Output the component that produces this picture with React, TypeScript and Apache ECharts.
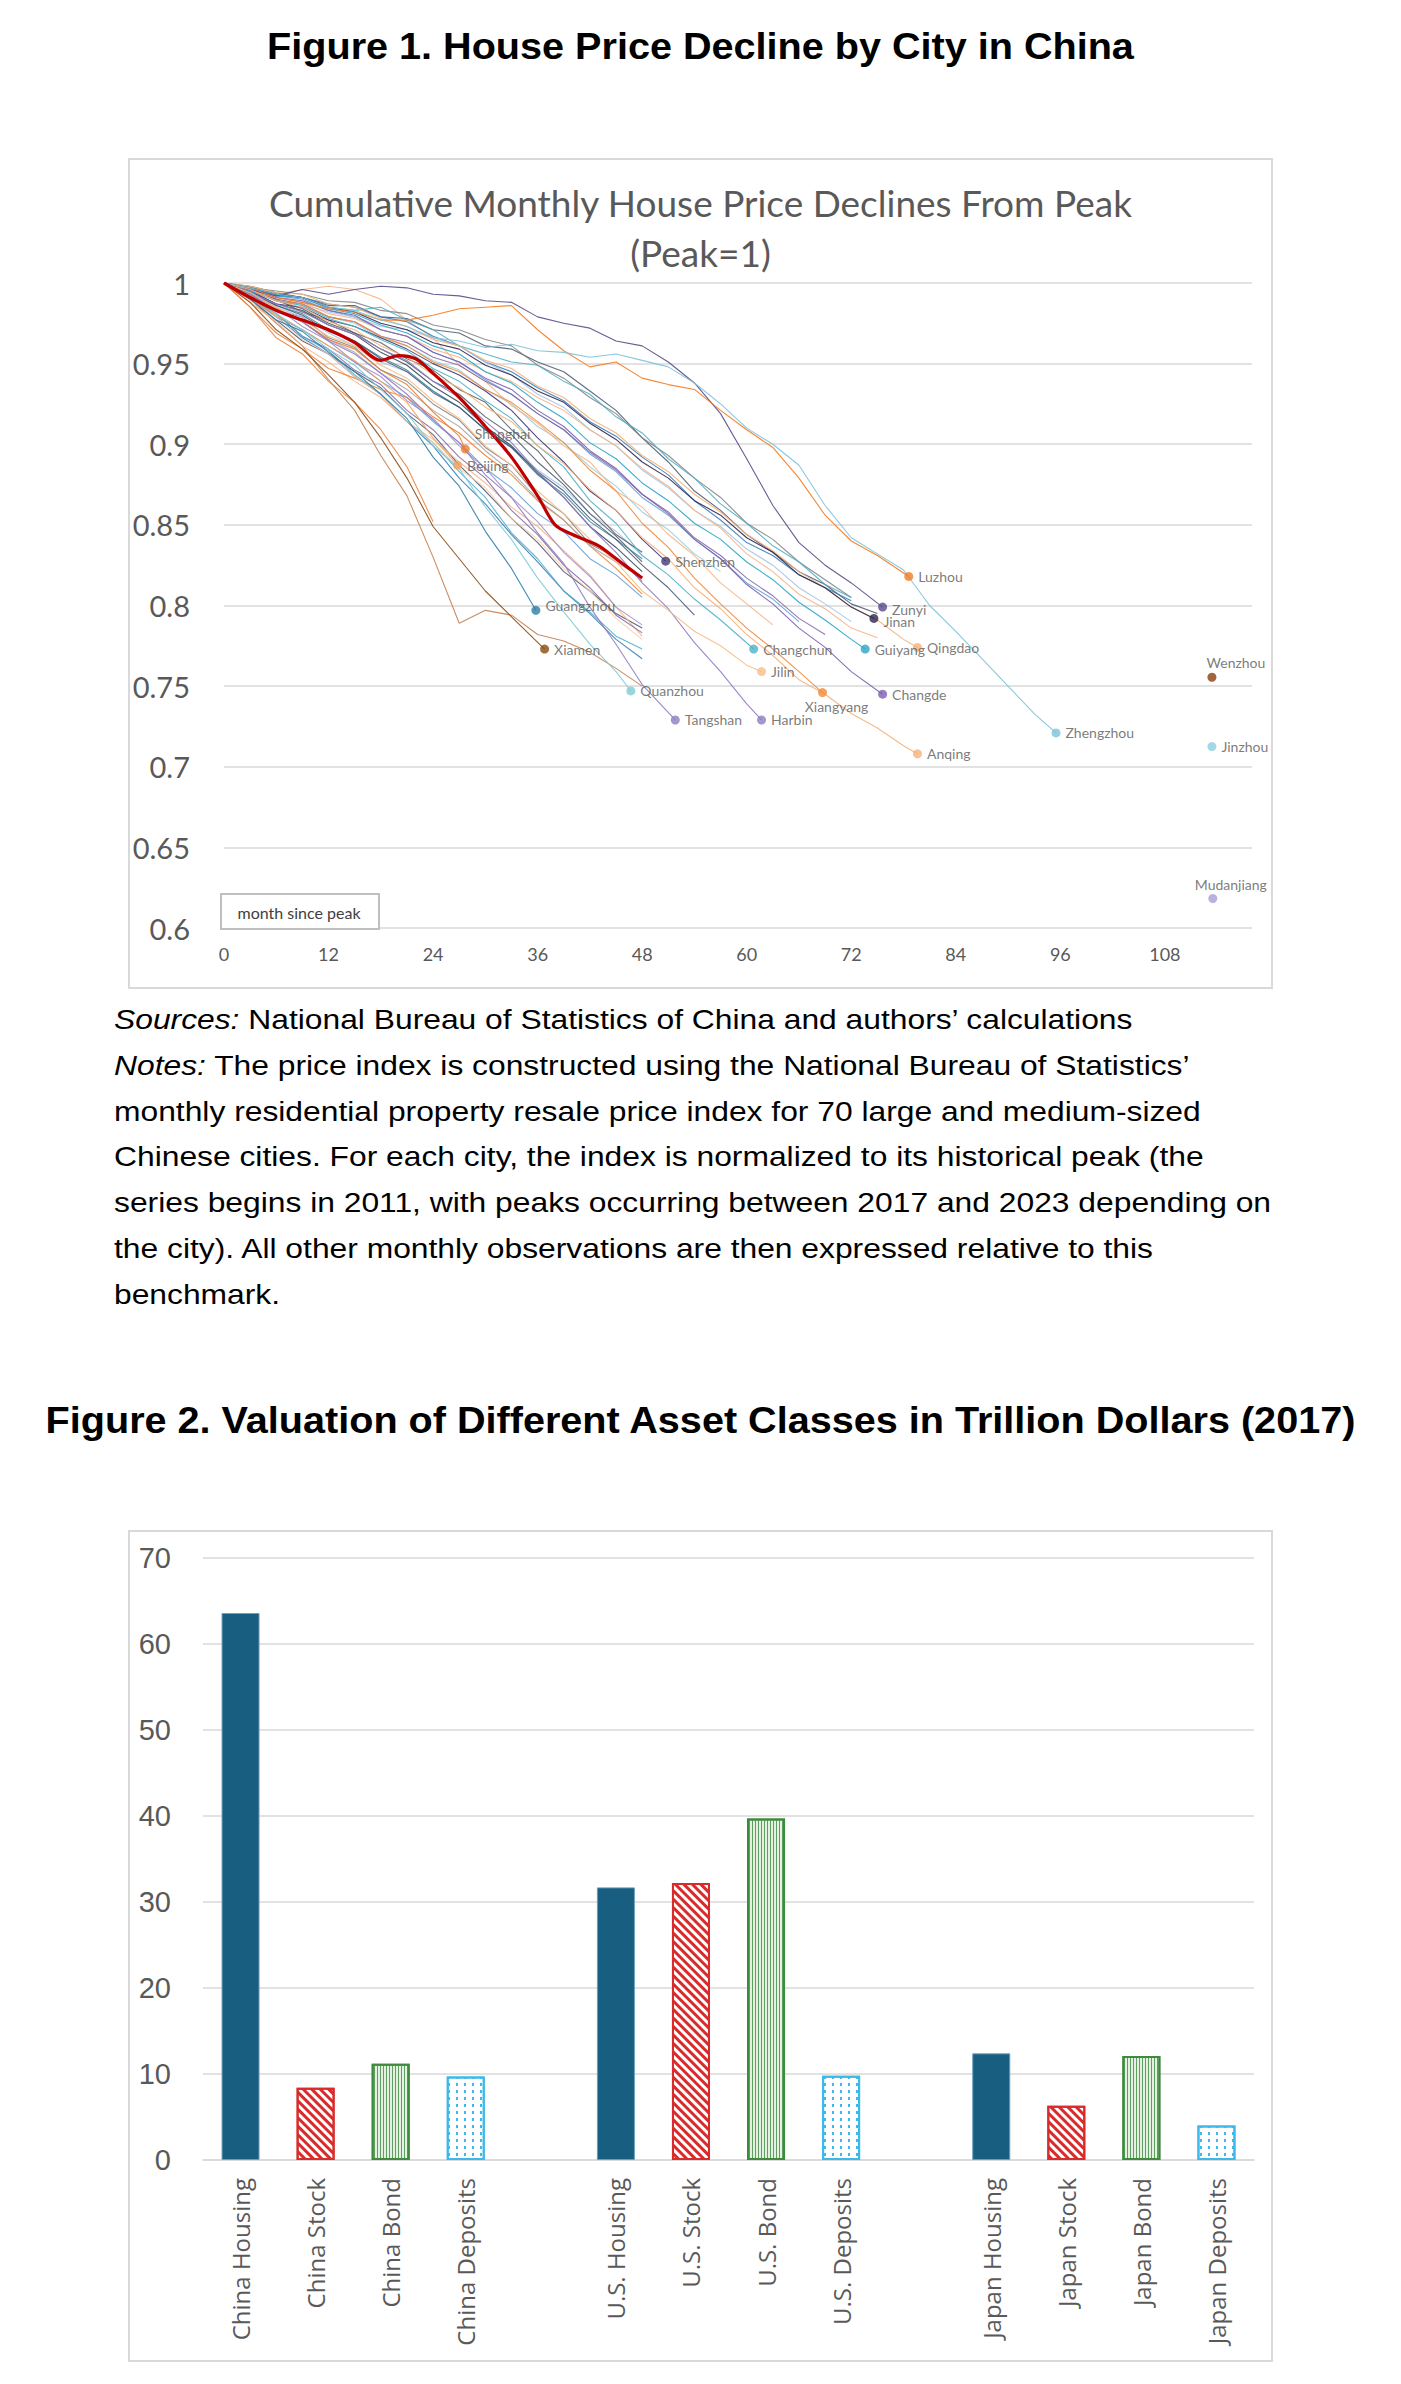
import { useEffect, useRef } from 'react'
import * as echarts from 'echarts'

// ---------------- Figure 1: cumulative monthly decline from peak ----------------
// every path is read off the picture at 0, 3, 6, ... months since peak
const STEP = 3

// average of all cities (thick red line)
const avgMonths = [0, 3, 6, 9, 12, 15, 18, 20, 22, 24, 27, 30, 33, 36, 38, 40, 43, 45, 48]
const avgValues = [1, 0.991, 0.983, 0.977, 0.971, 0.963, 0.952, 0.955, 0.953, 0.944, 0.929, 0.911, 0.892, 0.868, 0.85, 0.844, 0.837, 0.829, 0.817]

// labelled cities: path + last observation (marker)
const pShanghai = [1, 0.992, 0.984, 0.976, 0.965, 0.959, 0.946, 0.937, 0.92, 0.905]
const pBeijing = [1, 0.99, 0.98, 0.971, 0.961, 0.952, 0.939, 0.926, 0.904]
const pShenzhen = [1, 0.995, 0.987, 0.985, 0.977, 0.973, 0.966, 0.959, 0.95, 0.943, 0.933, 0.921, 0.904, 0.889, 0.871, 0.859, 0.841]
const pGuangzhou = [1, 0.99, 0.977, 0.97, 0.957, 0.945, 0.931, 0.916, 0.892, 0.874, 0.846, 0.823]
const pXiamen = [1, 0.988, 0.971, 0.959, 0.943, 0.926, 0.904, 0.879, 0.849, 0.829, 0.809, 0.793]
const pQuanzhou = [1, 0.992, 0.981, 0.971, 0.959, 0.949, 0.934, 0.919, 0.899, 0.885, 0.861, 0.841, 0.817, 0.796, 0.776, 0.759]
const pTangshan = [1, 0.993, 0.983, 0.976, 0.964, 0.956, 0.944, 0.931, 0.915, 0.901, 0.881, 0.867, 0.845, 0.826, 0.799, 0.776, 0.751]
const pHarbin = [1, 0.994, 0.987, 0.982, 0.974, 0.968, 0.959, 0.952, 0.939, 0.929, 0.914, 0.901, 0.883, 0.867, 0.849, 0.833, 0.814, 0.798, 0.777, 0.759, 0.739]
const pChangchun = [1, 0.995, 0.989, 0.986, 0.978, 0.973, 0.965, 0.958, 0.947, 0.939, 0.927, 0.916, 0.899, 0.886, 0.865, 0.851, 0.831, 0.819, 0.804, 0.791]
const pJilin = [1, 0.994, 0.985, 0.977, 0.967, 0.961, 0.949, 0.941, 0.927, 0.916, 0.899, 0.887, 0.871, 0.857, 0.841, 0.827, 0.809, 0.797, 0.784, 0.775, 0.763]
const pXiangyang = [1, 0.996, 0.989, 0.987, 0.979, 0.976, 0.967, 0.961, 0.951, 0.945, 0.934, 0.926, 0.914, 0.901, 0.884, 0.871, 0.851, 0.836, 0.817, 0.801, 0.786, 0.773, 0.759]
const pChangde = [1, 0.996, 0.991, 0.989, 0.983, 0.98, 0.971, 0.967, 0.957, 0.951, 0.941, 0.934, 0.921, 0.911, 0.896, 0.885, 0.869, 0.857, 0.841, 0.829, 0.813, 0.801, 0.786, 0.774, 0.759]
const pGuiyang = [1, 0.997, 0.992, 0.991, 0.984, 0.981, 0.974, 0.969, 0.961, 0.956, 0.945, 0.938, 0.926, 0.916, 0.901, 0.891, 0.876, 0.865, 0.851, 0.841, 0.827, 0.816, 0.802, 0.791, 0.779]
const pQingdao = [1, 0.998, 0.994, 0.993, 0.987, 0.985, 0.978, 0.973, 0.965, 0.961, 0.952, 0.947, 0.936, 0.929, 0.916, 0.907, 0.893, 0.883, 0.869, 0.858, 0.844, 0.834, 0.821, 0.811, 0.799, 0.791, 0.779]
const pJinan = [1, 0.997, 0.993, 0.991, 0.985, 0.982, 0.975, 0.971, 0.963, 0.959, 0.949, 0.943, 0.933, 0.926, 0.913, 0.903, 0.889, 0.879, 0.865, 0.856, 0.842, 0.833, 0.819, 0.811, 0.799]
const pZunyi = [1, 0.996, 0.992, 0.996, 0.993, 0.996, 0.998, 0.997, 0.993, 0.992, 0.989, 0.988, 0.979, 0.975, 0.972, 0.964, 0.961, 0.951, 0.938, 0.919, 0.891, 0.862, 0.839, 0.825, 0.814]
const pLuzhou = [1, 0.997, 0.991, 0.988, 0.984, 0.982, 0.977, 0.977, 0.98, 0.984, 0.985, 0.986, 0.971, 0.958, 0.948, 0.951, 0.941, 0.937, 0.934, 0.921, 0.909, 0.898, 0.879, 0.856, 0.84, 0.831]
const pAnqing = [1, 0.996, 0.989, 0.985, 0.976, 0.971, 0.961, 0.954, 0.943, 0.935, 0.923, 0.914, 0.899, 0.888, 0.872, 0.859, 0.842, 0.829, 0.811, 0.798, 0.782, 0.769, 0.754, 0.745, 0.733, 0.724, 0.713]
const pZhengzhou = [1, 0.997, 0.993, 0.991, 0.985, 0.983, 0.977, 0.973, 0.966, 0.964, 0.96, 0.962, 0.958, 0.957, 0.954, 0.956, 0.952, 0.948, 0.938, 0.925, 0.91, 0.9, 0.887, 0.862, 0.842, 0.832, 0.822, 0.8, 0.784, 0.767, 0.75, 0.733]

const cityNames = ['Shanghai', 'Beijing', 'Shenzhen', 'Guangzhou', 'Xiamen', 'Quanzhou', 'Tangshan', 'Harbin', 'Changchun', 'Jilin', 'Xiangyang', 'Changde', 'Guiyang', 'Qingdao', 'Jinan', 'Zunyi', 'Luzhou', 'Anqing', 'Zhengzhou']
const cityPaths = [pShanghai, pBeijing, pShenzhen, pGuangzhou, pXiamen, pQuanzhou, pTangshan, pHarbin, pChangchun, pJilin, pXiangyang, pChangde, pGuiyang, pQingdao, pJinan, pZunyi, pLuzhou, pAnqing, pZhengzhou]
const cityEndMonth = [27.7, 26.8, 50.7, 35.8, 36.8, 46.7, 51.8, 61.7, 60.8, 61.7, 68.7, 75.6, 73.6, 79.6, 74.6, 75.6, 78.6, 79.6, 95.5]
const cityEndValue = [0.897, 0.887, 0.8275, 0.797, 0.773, 0.747, 0.729, 0.729, 0.773, 0.759, 0.746, 0.745, 0.773, 0.774, 0.792, 0.799, 0.818, 0.708, 0.721]
const cityColors = ['#ED7D31', '#F4A35E', '#3E3A78', '#2E7DA6', '#8B4A12', '#7FCBD6', '#8E7CC3', '#8E7CC3', '#4BB4C8', '#F7BE8A', '#F28A3A', '#7B5FB0', '#2AA6C8', '#F5B27A', '#2D2550', '#5A4A8A', '#F47A1F', '#F5B27A', '#7DC2DA']

// cities shown only as a last observation
const soloNames = ['Wenzhou', 'Jinzhou', 'Mudanjiang']
const soloMonth = [113.4, 113.4, 113.5]
const soloValue = [0.7555, 0.7125, 0.6183]
const soloColors = ['#8B3E0E', '#8CCFE0', '#A99FD6']

// the unlabelled cities of the bundle
const u1 = [1, 0.985, 0.966, 0.956, 0.939, 0.926, 0.909, 0.886, 0.852]
const u2 = [1, 0.99, 0.975, 0.961, 0.94, 0.921, 0.893, 0.868, 0.83, 0.789, 0.797, 0.794, 0.782, 0.778, 0.771, 0.761, 0.75]
const u3 = [1, 0.99, 0.977, 0.964, 0.956, 0.945, 0.935, 0.919, 0.906, 0.887, 0.871, 0.854, 0.839, 0.821, 0.809, 0.795, 0.786]
const u4 = [1, 0.992, 0.979, 0.971, 0.961, 0.951, 0.939, 0.929, 0.914, 0.901, 0.885, 0.873, 0.857, 0.846, 0.829, 0.819, 0.805]
const u5 = [1, 0.988, 0.976, 0.961, 0.951, 0.939, 0.929, 0.914, 0.903, 0.889, 0.876, 0.861, 0.849, 0.834, 0.819, 0.799, 0.781]
const u6 = [1, 0.993, 0.983, 0.979, 0.966, 0.96, 0.946, 0.939, 0.925, 0.915, 0.898, 0.887, 0.868, 0.857, 0.838, 0.83, 0.815]
const u7 = [1, 0.99, 0.979, 0.966, 0.956, 0.942, 0.931, 0.914, 0.899, 0.879, 0.863, 0.844, 0.827, 0.809, 0.795, 0.779, 0.767]
const u8 = [1, 0.994, 0.985, 0.979, 0.969, 0.961, 0.951, 0.945, 0.933, 0.923, 0.909, 0.899, 0.884, 0.873, 0.857, 0.846, 0.831]
const u9 = [1, 0.991, 0.981, 0.967, 0.959, 0.946, 0.937, 0.921, 0.909, 0.892, 0.879, 0.859, 0.844, 0.825, 0.811, 0.794, 0.783]
const u10 = [1, 0.985, 0.969, 0.959, 0.947, 0.941, 0.934, 0.929, 0.917, 0.907, 0.893, 0.881, 0.865, 0.853, 0.837, 0.823, 0.807]
const u11 = [1, 0.995, 0.987, 0.983, 0.974, 0.968, 0.957, 0.949, 0.936, 0.926, 0.911, 0.899, 0.882, 0.867, 0.849, 0.836, 0.821]
const u12 = [1, 0.99, 0.981, 0.967, 0.958, 0.943, 0.931, 0.914, 0.901, 0.883, 0.867, 0.845, 0.829, 0.809, 0.796, 0.781, 0.773]
const u13 = [1, 0.992, 0.983, 0.976, 0.965, 0.957, 0.944, 0.934, 0.921, 0.911, 0.896, 0.883, 0.866, 0.853, 0.837, 0.827, 0.817]
const u14 = [1, 0.989, 0.979, 0.965, 0.956, 0.942, 0.931, 0.914, 0.901, 0.885, 0.873, 0.854, 0.841, 0.823, 0.809, 0.792, 0.779]
const u15 = [1, 0.996, 0.989, 0.984, 0.975, 0.969, 0.959, 0.951, 0.939, 0.931, 0.917, 0.906, 0.889, 0.875, 0.857, 0.843, 0.827]
const u16 = [1, 0.993, 0.985, 0.973, 0.964, 0.951, 0.942, 0.927, 0.916, 0.899, 0.885, 0.867, 0.852, 0.833, 0.818, 0.799, 0.788]
const u17 = [1, 0.994, 0.986, 0.981, 0.971, 0.964, 0.954, 0.946, 0.933, 0.923, 0.909, 0.898, 0.881, 0.869, 0.852, 0.841, 0.829]
const u18 = [1, 0.995, 0.99, 0.982, 0.977, 0.969, 0.963, 0.953, 0.946, 0.934, 0.926, 0.909, 0.896, 0.877, 0.861, 0.844, 0.833]
const u19 = [1, 0.996, 0.989, 0.986, 0.979, 0.975, 0.966, 0.961, 0.952, 0.946, 0.934, 0.925, 0.911, 0.901, 0.886, 0.874, 0.858, 0.847, 0.832, 0.821]
const u20 = [1, 0.995, 0.993, 0.996, 0.998, 0.996, 0.99, 0.977, 0.966, 0.949, 0.939, 0.924, 0.913, 0.899, 0.889, 0.871, 0.861, 0.844, 0.831, 0.814, 0.801, 0.788]
const u21 = [1, 0.994, 0.986, 0.98, 0.97, 0.964, 0.953, 0.945, 0.932, 0.923, 0.909, 0.898, 0.883, 0.871, 0.854, 0.841, 0.825, 0.811, 0.794]
const u22 = [1, 0.997, 0.992, 0.99, 0.983, 0.979, 0.971, 0.967, 0.957, 0.951, 0.94, 0.931, 0.919, 0.909, 0.894, 0.883, 0.867, 0.856, 0.841, 0.829, 0.814, 0.804, 0.79]
const u23 = [1, 0.998, 0.994, 0.991, 0.986, 0.986, 0.979, 0.978, 0.971, 0.969, 0.961, 0.959, 0.951, 0.945, 0.933, 0.921, 0.904, 0.889, 0.871, 0.859, 0.844, 0.833, 0.821, 0.813, 0.801, 0.795]
const u24 = [1, 0.996, 0.993, 0.991, 0.987, 0.985, 0.979, 0.976, 0.967, 0.961, 0.951, 0.945, 0.935, 0.927, 0.914, 0.905, 0.892, 0.881, 0.865, 0.853, 0.839, 0.831, 0.819, 0.811, 0.803]
const u25 = [1, 0.997, 0.995, 0.993, 0.989, 0.988, 0.983, 0.981, 0.974, 0.971, 0.965, 0.961, 0.949, 0.941, 0.929, 0.919, 0.904, 0.893, 0.879, 0.867, 0.851, 0.841, 0.827, 0.816, 0.805]
const u26 = [1, 0.995, 0.989, 0.987, 0.982, 0.979, 0.973, 0.971, 0.966, 0.961, 0.951, 0.943, 0.931, 0.923, 0.909, 0.899, 0.884, 0.873, 0.859, 0.849, 0.835, 0.825, 0.811, 0.801, 0.79]
const u27 = [1, 0.995, 0.99, 0.987, 0.979, 0.976, 0.967, 0.963, 0.954, 0.949, 0.939, 0.931, 0.919, 0.909, 0.895, 0.884, 0.869, 0.858, 0.842, 0.831, 0.817, 0.806, 0.792, 0.782]
const u28 = [1, 0.997, 0.993, 0.991, 0.985, 0.983, 0.985, 0.977, 0.971, 0.961, 0.956, 0.951, 0.949, 0.939, 0.931, 0.917, 0.907, 0.891, 0.879, 0.863, 0.851, 0.837, 0.827, 0.813, 0.805]
const u29 = [1, 0.996, 0.991, 0.988, 0.981, 0.978, 0.971, 0.967, 0.959, 0.954, 0.945, 0.939, 0.929, 0.921, 0.909, 0.899, 0.885, 0.874, 0.859, 0.848, 0.832, 0.821, 0.807, 0.798, 0.786, 0.78]

const otherPaths = [u1, u2, u3, u4, u5, u6, u7, u8, u9, u10, u11, u12, u13, u14, u15, u16, u17, u18, u19, u20, u21, u22, u23, u24, u25, u26, u27, u28, u29]
const otherColors = ['#ED7D31', '#C07A45', '#44546A', '#5B9BD5', '#F4B183', '#7F7F7F', '#2E75B6', '#9DC3E6', '#8064A2', '#ED7D31', '#333F50', '#4BACC6', '#A5A5A5', '#F8CBAD', '#44546A', '#9E8BC8', '#31859C', '#595959', '#92CDDC', '#F4B183', '#44546A', '#5B9BD5', '#44546A', '#2E75B6', '#7F7F7F', '#9DC3E6', '#8064A2', '#4BACC6', '#F4B183']

// ---------------- Figure 2: asset classes, trillion dollars (2017) ----------------
const assetCategories = ['China Housing', 'China Stock', 'China Bond', 'China Deposits', '', 'U.S. Housing', 'U.S. Stock', 'U.S. Bond', 'U.S. Deposits', '', 'Japan Housing', 'Japan Stock', 'Japan Bond', 'Japan Deposits']
const assetValues = [63.6, 8.4, 11.2, 9.7, null, 31.7, 32.2, 39.7, 9.8, null, 12.4, 6.3, 12.1, 4.0]
const assetKinds = ['housing', 'stock', 'bond', 'deposits', '', 'housing', 'stock', 'bond', 'deposits', '', 'housing', 'stock', 'bond', 'deposits']

const toPoints = (vals: number[]) => vals.map((v, i) => [i * STEP, v])

const labelPlace = (name: string) => {
  switch (name) {
    case 'Shanghai': return { position: 'right', offset: [0, -16] }
    case 'Guangzhou': return { position: 'right', offset: [0, -5] }
    case 'Xiangyang': return { position: 'bottom', offset: [14, -3] }
    case 'Zunyi': return { position: 'right', offset: [0, 2] }
    case 'Jinan': return { position: 'right', offset: [0, 3] }
    case 'Wenzhou': return { position: 'top', offset: [24, 2] }
    case 'Mudanjiang': return { position: 'top', offset: [18, 3] }
    default: return { position: 'right', offset: [0, 0] }
  }
}

const DeclineChart = () => {
  const ref = useRef<HTMLDivElement>(null)

  useEffect(() => {
    if (!ref.current) return
    const chart = echarts.init(ref.current, null, { renderer: 'svg' })

    const others = otherPaths.map((p, i) => ({
      type: 'line',
      data: toPoints(p),
      showSymbol: false,
      symbol: 'none',
      silent: true,
      z: 2,
      lineStyle: { color: otherColors[i], width: 1.1, opacity: 0.85 }
    }))
    const cities = cityPaths.map((p, i) => ({
      type: 'line',
      data: [...toPoints(p), [cityEndMonth[i], cityEndValue[i]]],
      showSymbol: false,
      symbol: 'none',
      silent: true,
      z: 3,
      lineStyle: { color: cityColors[i], width: 1.1, opacity: 0.9 }
    }))
    const markers = [
      ...cityNames.map((n, i) => ({ name: n, value: [cityEndMonth[i], cityEndValue[i]], color: cityColors[i] })),
      ...soloNames.map((n, i) => ({ name: n, value: [soloMonth[i], soloValue[i]], color: soloColors[i] }))
    ].map((d) => ({
      name: d.name,
      value: d.value,
      itemStyle: { color: d.color },
      label: labelPlace(d.name)
    }))

    chart.setOption({
      animation: false,
      title: {
        text: 'Cumulative Monthly House Price Declines From Peak\n(Peak=1)',
        left: 'center',
        top: 14,
        textStyle: { fontFamily: 'Lato', fontSize: 37, fontWeight: 'normal', color: '#595959', lineHeight: 50 }
      },
      grid: { left: 96, right: 21, top: 125, bottom: 61 },
      xAxis: {
        type: 'value',
        min: 0,
        max: 118,
        interval: 12,
        axisLine: { show: false },
        axisTick: { show: false },
        splitLine: { show: false },
        axisLabel: { fontFamily: 'Lato', fontSize: 18, color: '#595959', margin: 17, showMaxLabel: false }
      },
      yAxis: {
        type: 'value',
        min: 0.6,
        max: 1,
        interval: 0.05,
        axisLine: { show: false },
        axisTick: { show: false },
        splitLine: { lineStyle: { color: '#D9D9D9', width: 1.5 } },
        axisLabel: {
          fontFamily: 'Lato',
          fontSize: 29,
          color: '#595959',
          margin: 34,
          formatter: (v: number) => String(+v.toFixed(2))
        }
      },
      series: [
        ...others,
        ...cities,
        {
          type: 'line',
          data: avgMonths.map((m, i) => [m, avgValues[i]]),
          showSymbol: false,
          symbol: 'none',
          smooth: 0.3,
          silent: true,
          z: 4,
          lineStyle: { color: '#C00000', width: 3.2 }
        },
        {
          type: 'scatter',
          data: markers,
          symbolSize: 9,
          silent: true,
          z: 5,
          label: {
            show: true,
            formatter: '{b}',
            fontFamily: 'Lato',
            fontSize: 14,
            color: '#595959'
          }
        }
      ],
      graphic: [
        {
          type: 'rect',
          shape: { x: 93, y: 736, width: 158, height: 35 },
          style: { fill: '#fff', stroke: '#BFBFBF', lineWidth: 2 },
          z: 10
        },
        {
          type: 'text',
          x: 171,
          y: 754,
          style: {
            text: 'month since peak',
            fontFamily: 'Lato',
            fontSize: 16,
            fill: '#404040',
            align: 'center',
            verticalAlign: 'middle'
          },
          z: 11
        }
      ]
    })

    return () => chart.dispose()
  }, [])

  return <div ref={ref} style={{ position: 'absolute', left: 128, top: 158, width: 1145, height: 831 }} />
}

const kindStyle: Record<string, any> = {
  housing: { color: '#175E80', borderColor: '#6E9CB8', borderWidth: 1 },
  stock: {
    color: '#fff',
    borderColor: '#D92B2B',
    borderWidth: 2,
    decal: { symbol: 'rect', color: '#D92B2B', backgroundColor: '#fff', dashArrayX: [1, 0], dashArrayY: [3, 3], rotation: Math.PI / 4 }
  },
  bond: {
    color: '#E4F1E2',
    borderColor: '#3D8B3D',
    borderWidth: 2,
    decal: { symbol: 'rect', color: '#5E9E5E', backgroundColor: '#E4F1E2', dashArrayX: [1, 2], dashArrayY: [4, 0] }
  },
  deposits: {
    color: '#fff',
    borderColor: '#3CB8EA',
    borderWidth: 2,
    decal: { symbol: 'rect', color: '#3CB8EA', backgroundColor: '#fff', dashArrayX: [2, 6], dashArrayY: [3, 4] }
  }
}

const AssetChart = () => {
  const ref = useRef<HTMLDivElement>(null)

  useEffect(() => {
    if (!ref.current) return
    const chart = echarts.init(ref.current, null, { renderer: 'svg' })

    chart.setOption({
      animation: false,
      grid: { left: 75, right: 19, top: 28, bottom: 202 },
      xAxis: {
        type: 'category',
        data: assetCategories,
        axisLine: { lineStyle: { color: '#D9D9D9', width: 1.5 } },
        axisTick: { show: false },
        axisLabel: { interval: 0, rotate: 90, fontFamily: 'Open Sans', fontSize: 24, color: '#595959', margin: 18 }
      },
      yAxis: {
        type: 'value',
        min: 0,
        max: 70,
        interval: 10,
        axisLine: { show: false },
        axisTick: { show: false },
        splitLine: { lineStyle: { color: '#D9D9D9', width: 1.5 } },
        axisLabel: { fontFamily: 'Liberation Sans', fontSize: 29, color: '#595959', margin: 32 }
      },
      series: ['housing', 'stock', 'bond', 'deposits'].map((k) => ({
        type: 'bar',
        name: k,
        barWidth: 38,
        barGap: '-100%',
        silent: true,
        data: assetValues.map((v, i) => (assetKinds[i] === k ? v : '-')),
        itemStyle: kindStyle[k]
      }))
    })

    return () => chart.dispose()
  }, [])

  return <div ref={ref} style={{ position: 'absolute', left: 128, top: 1530, width: 1145, height: 832 }} />
}

const titleStyle = {
  position: 'absolute' as const,
  left: 0,
  width: 1401,
  textAlign: 'center' as const,
  fontFamily: '"Liberation Sans", Arial, sans-serif',
  fontWeight: 'bold' as const,
  fontSize: 37,
  lineHeight: '37px',
  whiteSpace: 'nowrap' as const,
  transform: 'scaleX(1.07)',
  transformOrigin: 'center top'
}

const boxStyle = (top: number, height: number) => ({
  position: 'absolute' as const,
  left: 128,
  top,
  width: 1145,
  height,
  border: '2px solid #D9D9D9',
  boxSizing: 'border-box' as const,
  pointerEvents: 'none' as const
})

export default function App() {
  return (
    <div style={{ position: 'absolute', left: 0, top: 0, width: 1401, height: 2384, background: '#fff', color: '#000', overflow: 'hidden' }}>
      <div style={{ ...titleStyle, top: 28 }}>Figure 1. House Price Decline by City in China</div>
      <DeclineChart />
      <div style={boxStyle(158, 831)} />
      <div
        style={{
          position: 'absolute',
          left: 114,
          top: 997,
          fontFamily: '"Liberation Sans", Arial, sans-serif',
          fontSize: 27.5,
          lineHeight: '45.8px',
          whiteSpace: 'nowrap',
          transform: 'scaleX(1.156)',
          transformOrigin: 'left top'
        }}
      >
        <div><i>Sources:</i> National Bureau of Statistics of China and authors’ calculations</div>
        <div><i>Notes:</i> The price index is constructed using the National Bureau of Statistics’</div>
        <div>monthly residential property resale price index for 70 large and medium-sized</div>
        <div>Chinese cities. For each city, the index is normalized to its historical peak (the</div>
        <div>series begins in 2011, with peaks occurring between 2017 and 2023 depending on</div>
        <div>the city). All other monthly observations are then expressed relative to this</div>
        <div>benchmark.</div>
      </div>
      <div style={{ ...titleStyle, top: 1402 }}>Figure 2. Valuation of Different Asset Classes in Trillion Dollars (2017)</div>
      <AssetChart />
      <div style={boxStyle(1530, 832)} />
    </div>
  )
}
